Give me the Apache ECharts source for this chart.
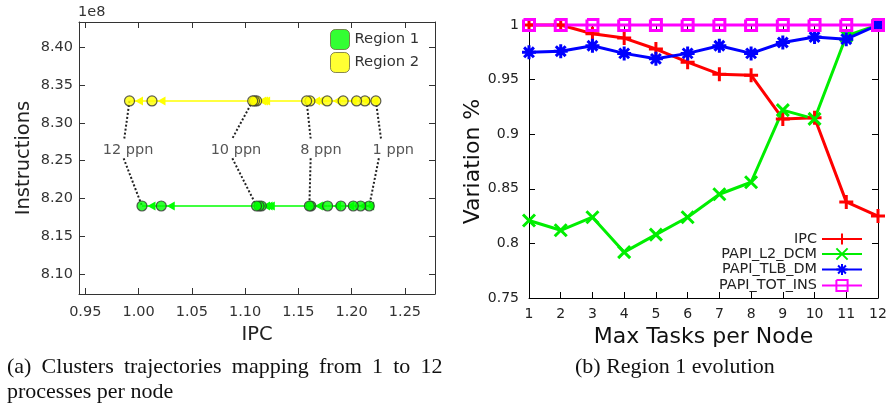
<!DOCTYPE html>
<html><head><meta charset="utf-8">
<script src="https://cdn.jsdelivr.net/npm/echarts@6/dist/echarts.min.js"></script>
<style>html,body{margin:0;padding:0;background:#fff}#c{width:890px;height:408px}</style>
</head><body><div id="c"></div>
<script>
// ---------- Left chart: cluster trajectories ----------
const region2IPC = [1.2227, 1.2124, 1.2046, 1.1920, 1.1770, 1.1608, 1.1577, 1.1108, 1.1088, 1.1071, 1.0126, 0.9915];
const region2Ins = [832900000, 832900000, 832900000, 832900000, 832900000, 832900000, 832900000, 832900000, 832900000, 832900000, 832900000, 832900000];
const region1IPC = [1.2165, 1.2084, 1.2015, 1.1899, 1.1774, 1.1617, 1.1603, 1.1152, 1.1131, 1.1107, 1.0213, 1.0032];
const region1Ins = [819000000, 819000000, 819000000, 819000000, 819000000, 819000000, 819000000, 819000000, 819000000, 819000000, 819000000, 819000000];

const ppnLabels = ['12 ppn', '10 ppn', '8 ppn', '1 ppn'];
const ppnLabelIPC = [0.9901, 1.0914, 1.1711, 1.2391];
const ppnLabelIns = 826410000;
const ppnRegion2IPC = [0.9915, 1.1071, 1.1577, 1.2227];
const ppnTopEndIPC = [0.9866, 1.0880, 1.1615, 1.2275];
const ppnTopEndIns = 827930000;
const ppnBottomStartIPC = [0.9860, 1.0880, 1.1615, 1.2255];
const ppnBottomStartIns = 825310000;
const ppnRegion1IPC = [1.0032, 1.1107, 1.1603, 1.2165];

const ipcTicks = [0.95, 1.00, 1.05, 1.10, 1.15, 1.20, 1.25];
const insTicks = [810000000, 815000000, 820000000, 825000000, 830000000, 835000000, 840000000];

// ---------- Right chart: Region 1 evolution ----------
const tasks = [1, 2, 3, 4, 5, 6, 7, 8, 9, 10, 11, 12];
const ipcVar = [1.0, 1.0, 0.992, 0.988, 0.978, 0.966, 0.955, 0.954, 0.914, 0.915, 0.838, 0.825];
const l2dcmVar = [0.821, 0.812, 0.824, 0.792, 0.808, 0.824, 0.845, 0.856, 0.922, 0.914, 0.990, 1.0];
const tlbdmVar = [0.975, 0.976, 0.981, 0.974, 0.969, 0.974, 0.981, 0.974, 0.984, 0.989, 0.987, 1.0];
const totinsVar = [1, 1, 1, 1, 1, 1, 1, 1, 1, 1, 1, 1];

const captionA1 = ['(a)', 'Clusters', 'trajectories', 'mapping', 'from', '1', 'to', '12'];
const captionA2 = 'processes per node';
const captionB = '(b) Region 1 evolution';

const SANS = 'DejaVu Sans';
const SERIF = 'Liberation Serif';

function arrowSegs(xs, ys) {
  const out = [];
  for (let i = 0; i < xs.length - 1; i++) {
    out.push([{ coord: [xs[i], ys[i]] }, { coord: [xs[i + 1], ys[i + 1]] }]);
  }
  return out;
}
function pts(xs, ys) { return xs.map((x, i) => [x, ys[i]]); }

const connectors = [];
ppnLabels.forEach((l, i) => {
  connectors.push([{ coord: [ppnRegion2IPC[i], region2Ins[0]] }, { coord: [ppnTopEndIPC[i], ppnTopEndIns] }]);
  connectors.push([{ coord: [ppnBottomStartIPC[i], ppnBottomStartIns] }, { coord: [ppnRegion1IPC[i], region1Ins[0]] }]);
});

const leftTickStyle = { color: '#333', width: 1 };
const leftLabel = { fontFamily: SANS, fontSize: 14.5, color: '#333' };
const rightLabel = { fontFamily: SANS, fontSize: 14, color: '#222' };

const plusPath = 'path://M0,6H12M6,0V12';
const xPath = 'path://M0,0L10,10M0,10L10,0';
const starPath = 'path://M0,6H12M6,0V12M1.8,1.8L10.2,10.2M1.8,10.2L10.2,1.8';
const squarePath = 'path://M0,0H10V10H0V0';

function varSeries(name, values, color, symbol, size) {
  return {
    type: 'line', name, xAxisIndex: 2, yAxisIndex: 2, clip: false,
    data: pts(tasks, values),
    symbol, symbolSize: size,
    lineStyle: { color, width: 3 },
    itemStyle: { color: 'rgba(0,0,0,0)', borderColor: color, borderWidth: 3 },
    z: 3
  };
}

const richWords = captionA1.map(w => '{w|' + w + '}').join('{s| }') + '\n{w|' + captionA2 + '}';

const rightLegendNames = ['IPC', 'PAPI_L2_DCM', 'PAPI_TLB_DM', 'PAPI_TOT_INS'];
const rightLegendTops = [232, 247, 262.5, 278.5];

const chart = echarts.init(document.getElementById('c'), null, { renderer: 'canvas' });
chart.setOption({
  animation: false,
  backgroundColor: '#fff',
  title: [
    { text: '1e8', left: 78, top: 5, padding: 0, textStyle: { fontFamily: SANS, fontSize: 14.5, fontWeight: 'normal', color: '#333' } },
    { text: richWords, left: 7, top: 355, padding: 0,
      textStyle: { fontWeight: 'normal', rich: {
        w: { fontFamily: SERIF, fontSize: 22, fontWeight: 'normal', color: '#111', lineHeight: 25 },
        s: { fontFamily: SERIF, fontSize: 22, fontWeight: 'normal', width: 10.2, lineHeight: 25 }
      } } },
    { text: captionB, left: 575, top: 355, padding: 0,
      textStyle: { fontFamily: SERIF, fontSize: 22, fontWeight: 'normal', color: '#111', lineHeight: 25 } }
  ],
  legend: [
    { data: ['Region 1', 'Region 2'], orient: 'vertical', left: 330, top: 29, padding: 0,
      itemWidth: 19, itemHeight: 20, itemGap: 2, icon: 'roundRect',
      itemStyle: { borderColor: '#6a6a3a', borderWidth: 1 },
      textStyle: { fontFamily: SANS, fontSize: 14.8, color: '#333' } }
  ].concat(rightLegendNames.map((n, i) => ({
    data: [n], right: 27, top: rightLegendTops[i], padding: 0, align: 'right',
    itemWidth: 40, itemHeight: 14,
    textStyle: { fontFamily: SANS, fontSize: 14.4, color: '#222' }
  }))),
  grid: [
    { left: 79, top: 22, width: 356, height: 272, containLabel: false, outerBoundsMode: 'none' },
    { left: 529, top: 25, width: 349, height: 273, containLabel: false, outerBoundsMode: 'none' }
  ],
  xAxis: [
    { type: 'value', gridIndex: 0, min: 0.9441, max: 1.2782, position: 'bottom',
      axisLine: { show: true, onZero: false, lineStyle: leftTickStyle },
      axisTick: { show: true, inside: true, length: 6, customValues: ipcTicks, lineStyle: leftTickStyle },
      axisLabel: Object.assign({ customValues: ipcTicks, formatter: v => v.toFixed(2), margin: 11 }, leftLabel),
      splitLine: { show: false },
      name: 'IPC', nameLocation: 'middle', nameGap: 31,
      nameTextStyle: { fontFamily: SANS, fontSize: 19.5, color: '#222' } },
    { type: 'value', gridIndex: 0, min: 0.9441, max: 1.2782, position: 'top',
      axisLine: { show: true, onZero: false, lineStyle: leftTickStyle },
      axisTick: { show: true, inside: true, length: 6, customValues: ipcTicks, lineStyle: leftTickStyle },
      axisLabel: { show: false }, splitLine: { show: false } },
    { type: 'value', gridIndex: 1, min: 1, max: 12, interval: 1, position: 'bottom',
      axisLine: { show: true, onZero: false, lineStyle: { color: '#000', width: 1 } },
      axisTick: { show: true, inside: true, length: 6, lineStyle: { color: '#000' } },
      axisLabel: Object.assign({ margin: 9 }, rightLabel),
      splitLine: { show: false },
      name: 'Max Tasks per Node', nameLocation: 'middle', nameGap: 25,
      nameTextStyle: { fontFamily: SANS, fontSize: 22, color: '#111' } },
    { type: 'value', gridIndex: 1, min: 1, max: 12, interval: 1, position: 'top',
      axisLine: { show: true, onZero: false, lineStyle: { color: '#000', width: 1 } },
      axisTick: { show: true, inside: true, length: 6, lineStyle: { color: '#000' } },
      axisLabel: { show: false }, splitLine: { show: false } }
  ],
  yAxis: [
    { type: 'value', gridIndex: 0, min: 807350000, max: 843350000, position: 'left',
      axisLine: { show: true, onZero: false, lineStyle: leftTickStyle },
      axisTick: { show: true, inside: true, length: 6, customValues: insTicks, lineStyle: leftTickStyle },
      axisLabel: Object.assign({ customValues: insTicks, formatter: v => (v / 1e8).toFixed(2), margin: 6 }, leftLabel),
      splitLine: { show: false },
      name: 'Instructions', nameLocation: 'middle', nameGap: 45,
      nameTextStyle: { fontFamily: SANS, fontSize: 19.5, color: '#222' } },
    { type: 'value', gridIndex: 0, min: 807350000, max: 843350000, position: 'right',
      axisLine: { show: true, onZero: false, lineStyle: leftTickStyle },
      axisTick: { show: true, inside: true, length: 6, customValues: insTicks, lineStyle: leftTickStyle },
      axisLabel: { show: false }, splitLine: { show: false } },
    { type: 'value', gridIndex: 1, min: 0.75, max: 1, interval: 0.05, position: 'left',
      axisLine: { show: true, onZero: false, lineStyle: { color: '#000', width: 1 } },
      axisTick: { show: true, inside: true, length: 6, lineStyle: { color: '#000' } },
      axisLabel: Object.assign({ margin: 10 }, rightLabel),
      splitLine: { show: false },
      name: 'Variation %', nameLocation: 'middle', nameGap: 45,
      nameTextStyle: { fontFamily: SANS, fontSize: 22, color: '#111' } },
    { type: 'value', gridIndex: 1, min: 0.75, max: 1, interval: 0.05, position: 'right',
      axisLine: { show: true, onZero: false, lineStyle: { color: '#000', width: 1 } },
      axisTick: { show: true, inside: true, length: 6, lineStyle: { color: '#000' } },
      axisLabel: { show: false }, splitLine: { show: false } }
  ],
  series: [
    { type: 'scatter', name: 'ppn', xAxisIndex: 0, yAxisIndex: 0, z: 1,
      data: ppnLabels.map((l, i) => ({ value: [ppnLabelIPC[i], ppnLabelIns], name: l })),
      symbolSize: 1, itemStyle: { color: 'rgba(0,0,0,0)' },
      label: { show: true, position: 'inside', formatter: '{b}', fontFamily: SANS, fontSize: 14.5, color: '#2a2a2a' },
      markLine: { silent: true, symbol: ['none', 'none'], z: 1, label: { show: false },
        lineStyle: { type: 'dotted', width: 2, color: '#222' }, data: connectors } },
    { type: 'scatter', name: 'Region 2', xAxisIndex: 0, yAxisIndex: 0, z: 3,
      data: pts(region2IPC, region2Ins), symbol: 'circle', symbolSize: 10,
      itemStyle: { color: '#ffff00', borderColor: '#333', borderWidth: 1.2 },
      markLine: { silent: true, z: 2, symbol: ['none', 'triangle'], symbolSize: [9, 8],
        symbolOffset: [[0, 0], [0, 9.5]], label: { show: false },
        lineStyle: { type: 'solid', width: 1.5, color: '#ffff00' },
        itemStyle: { color: '#ffff00' },
        data: arrowSegs(region2IPC, region2Ins) } },
    { type: 'scatter', name: 'Region 1', xAxisIndex: 0, yAxisIndex: 0, z: 3,
      data: pts(region1IPC, region1Ins), symbol: 'circle', symbolSize: 10,
      itemStyle: { color: '#00ff00', borderColor: '#333', borderWidth: 1.2 },
      markLine: { silent: true, z: 2, symbol: ['none', 'triangle'], symbolSize: [9, 8],
        symbolOffset: [[0, 0], [0, 9.5]], label: { show: false },
        lineStyle: { type: 'solid', width: 1.5, color: '#00ff00' },
        itemStyle: { color: '#00ff00' },
        data: arrowSegs(region1IPC, region1Ins) } },
    varSeries('IPC', ipcVar, '#ff0000', plusPath, 14),
    varSeries('PAPI_L2_DCM', l2dcmVar, '#00ee00', xPath, 12),
    varSeries('PAPI_TLB_DM', tlbdmVar, '#0000ff', starPath, 14),
    varSeries('PAPI_TOT_INS', totinsVar, '#ff00ff', squarePath, 11)
  ]
});
</script>
</body></html>
